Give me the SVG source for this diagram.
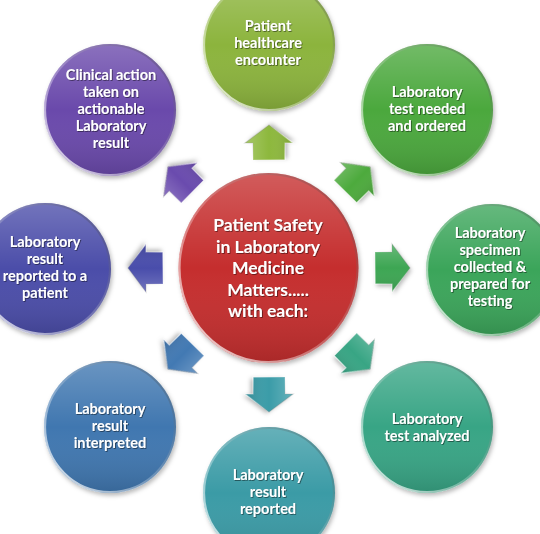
<svg xmlns="http://www.w3.org/2000/svg" xmlns:xlink="http://www.w3.org/1999/xlink" width="540" height="534" viewBox="0 0 540 534">
<defs>
<style>
.lbl{font-family:Lato,"Open Sans","Liberation Sans",sans-serif;font-weight:700;fill:#fff;text-anchor:middle;font-size:14.5px;filter:url(#ts)}
.ctr{font-size:17.5px}
.rim{fill:none;stroke:url(#rim);stroke-width:2.2}
.shade{fill:url(#shade)}
.base{filter:url(#sh)}
</style>
<linearGradient id="shade" x1="0" y1="0" x2="0" y2="1">
<stop offset="0" stop-color="#fff" stop-opacity="0.22"/>
<stop offset="0.5" stop-color="#fff" stop-opacity="0"/>
<stop offset="1" stop-color="#000" stop-opacity="0.14"/>
</linearGradient>
<linearGradient id="rim" x1="0" y1="1" x2="1" y2="0">
<stop offset="0" stop-color="#fff" stop-opacity="0.9"/>
<stop offset="0.45" stop-color="#fff" stop-opacity="0.25"/>
<stop offset="1" stop-color="#000" stop-opacity="0.25"/>
</linearGradient>
<filter id="sh" x="-20%" y="-20%" width="140%" height="140%">
<feDropShadow dx="1.5" dy="2.5" stdDeviation="2" flood-color="#000" flood-opacity="0.28"/>
</filter>
<filter id="ts" x="-10%" y="-30%" width="120%" height="160%">
<feDropShadow dx="0.8" dy="0.8" stdDeviation="0.5" flood-color="#000" flood-opacity="0.55"/>
</filter>
<path id="arr" d="M0,-16 H17 V-24 L35,0 L17,24 V16 H0 Z"/>
</defs>

<g id="connectors">
<g transform="translate(269,268) rotate(-90) translate(108,0)"><use xlink:href="#arr" class="base" fill="#8DB83E"/><use xlink:href="#arr" class="shade"/><use xlink:href="#arr" class="rim" style="stroke-width:1.2"/></g>
<g transform="translate(269,268) rotate(-45) translate(108,0)"><use xlink:href="#arr" class="base" fill="#4DAA3C"/><use xlink:href="#arr" class="shade"/><use xlink:href="#arr" class="rim" style="stroke-width:1.2"/></g>
<g transform="translate(269,268) rotate(0) translate(106,0)"><use xlink:href="#arr" class="base" fill="#3CA652"/><use xlink:href="#arr" class="shade"/><use xlink:href="#arr" class="rim" style="stroke-width:1.2"/></g>
<g transform="translate(269,268) rotate(45) translate(108,0)"><use xlink:href="#arr" class="base" fill="#38A584"/><use xlink:href="#arr" class="shade"/><use xlink:href="#arr" class="rim" style="stroke-width:1.2"/></g>
<g transform="translate(269,268) rotate(90) translate(109,0)"><use xlink:href="#arr" class="base" fill="#3A9CA8"/><use xlink:href="#arr" class="shade"/><use xlink:href="#arr" class="rim" style="stroke-width:1.2"/></g>
<g transform="translate(269,268) rotate(135) translate(108,0)"><use xlink:href="#arr" class="base" fill="#4279B3"/><use xlink:href="#arr" class="shade"/><use xlink:href="#arr" class="rim" style="stroke-width:1.2"/></g>
<g transform="translate(269,268) rotate(180) translate(106,0)"><use xlink:href="#arr" class="base" fill="#4A4DAB"/><use xlink:href="#arr" class="shade"/><use xlink:href="#arr" class="rim" style="stroke-width:1.2"/></g>
<g transform="translate(269,268) rotate(-135) translate(108,0)"><use xlink:href="#arr" class="base" fill="#6A4BAE"/><use xlink:href="#arr" class="shade"/><use xlink:href="#arr" class="rim" style="stroke-width:1.2"/></g>
</g>

<g id="center">
<ellipse class="base" cx="268.5" cy="268" rx="90" ry="95" fill="#C52F2F"/>
<ellipse class="shade" cx="268.5" cy="268" rx="90" ry="95"/>
<ellipse class="rim" cx="268.5" cy="268" rx="89" ry="94"/>
<text class="lbl ctr" x="268" y="231">Patient Safety</text>
<text class="lbl ctr" x="268" y="252.5">in Laboratory</text>
<text class="lbl ctr" x="268" y="274">Medicine</text>
<text class="lbl ctr" x="268" y="295.5">Matters.....</text>
<text class="lbl ctr" x="268" y="317">with each:</text>
</g>

<g id="n1">
<circle class="base" cx="269" cy="45" r="66" fill="#8CB43C"/>
<circle class="shade" cx="269" cy="45" r="66"/>
<circle class="rim" cx="269" cy="45" r="65"/>
<text class="lbl" x="268" y="31">Patient</text>
<text class="lbl" x="268" y="48">healthcare</text>
<text class="lbl" x="268" y="65">encounter</text>
</g>

<g id="n2">
<circle class="base" cx="427" cy="110" r="66" fill="#4BA83C"/>
<circle class="shade" cx="427" cy="110" r="66"/>
<circle class="rim" cx="427" cy="110" r="65"/>
<text class="lbl" x="427" y="97">Laboratory</text>
<text class="lbl" x="427" y="114">test needed</text>
<text class="lbl" x="427" y="131">and ordered</text>
</g>

<g id="n3">
<circle class="base" cx="492" cy="270" r="66" fill="#3BA55A"/>
<circle class="shade" cx="492" cy="270" r="66"/>
<circle class="rim" cx="492" cy="270" r="65"/>
<text class="lbl" x="490" y="238">Laboratory</text>
<text class="lbl" x="490" y="255">specimen</text>
<text class="lbl" x="490" y="272">collected &amp;</text>
<text class="lbl" x="490" y="289">prepared for</text>
<text class="lbl" x="490" y="306">testing</text>
</g>

<g id="n4">
<circle class="base" cx="427" cy="427" r="66" fill="#39A585"/>
<circle class="shade" cx="427" cy="427" r="66"/>
<circle class="rim" cx="427" cy="427" r="65"/>
<text class="lbl" x="427" y="424">Laboratory</text>
<text class="lbl" x="427" y="441">test analyzed</text>
</g>

<g id="n5">
<circle class="base" cx="269" cy="493" r="66" fill="#3A9BA6"/>
<circle class="shade" cx="269" cy="493" r="66"/>
<circle class="rim" cx="269" cy="493" r="65"/>
<text class="lbl" x="268" y="480">Laboratory</text>
<text class="lbl" x="268" y="497">result</text>
<text class="lbl" x="268" y="514">reported</text>
</g>

<g id="n6">
<circle class="base" cx="110" cy="427" r="66" fill="#3F77B0"/>
<circle class="shade" cx="110" cy="427" r="66"/>
<circle class="rim" cx="110" cy="427" r="65"/>
<text class="lbl" x="110" y="414">Laboratory</text>
<text class="lbl" x="110" y="431">result</text>
<text class="lbl" x="110" y="448">interpreted</text>
</g>

<g id="n7">
<circle class="base" cx="45" cy="269" r="66" fill="#4B4DA9"/>
<circle class="shade" cx="45" cy="269" r="66"/>
<circle class="rim" cx="45" cy="269" r="65"/>
<text class="lbl" x="45" y="247">Laboratory</text>
<text class="lbl" x="45" y="264">result</text>
<text class="lbl" x="45" y="281">reported to a</text>
<text class="lbl" x="45" y="298">patient</text>
</g>

<g id="n8">
<circle class="base" cx="110" cy="110" r="66" fill="#6A4AAB"/>
<circle class="shade" cx="110" cy="110" r="66"/>
<circle class="rim" cx="110" cy="110" r="65"/>
<text class="lbl" x="111" y="80">Clinical action</text>
<text class="lbl" x="111" y="97">taken on</text>
<text class="lbl" x="111" y="114">actionable</text>
<text class="lbl" x="111" y="131">Laboratory</text>
<text class="lbl" x="111" y="148">result</text>
</g>
</svg>
